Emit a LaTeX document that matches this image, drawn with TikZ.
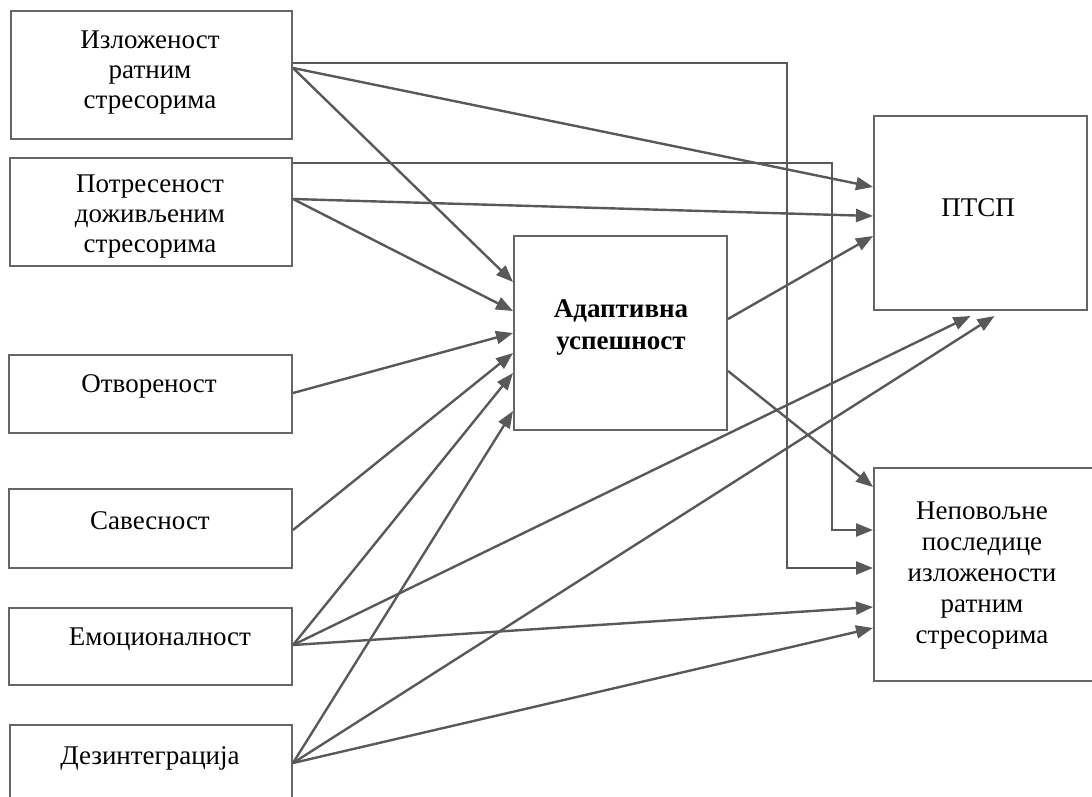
\documentclass[tikz,border=0pt]{standalone}
\usepackage{fontspec}
\setmainfont{Liberation Serif}
\usetikzlibrary{arrows.meta,calc}
\definecolor{lncol}{HTML}{595959}
\definecolor{bxcol}{HTML}{666666}
\begin{document}
\begin{tikzpicture}[x=1pt,y=-1pt,
  box/.style={draw=bxcol, line width=2pt, anchor=north west, inner sep=0pt},
  txt/.style={font=\fontsize{27}{30}\selectfont, align=center, inner sep=0pt, text=black},
  arr/.style={draw=lncol, line width=2.4pt, -{Triangle[length=17pt,width=13pt]}},
]
\useasboundingbox (0,0) rectangle (1092,796);
\clip (0,0) rectangle (1092,796);
% left boxes
\node[box, minimum width=281pt, minimum height=128pt] (b1) at (10,10) {};
\node[box, minimum width=282pt, minimum height=108pt] (b2) at (9,157) {};
\node[box, minimum width=283pt, minimum height=78pt] (b3) at (8,354) {};
\node[box, minimum width=283pt, minimum height=79pt] (b4) at (8,488) {};
\node[box, minimum width=283pt, minimum height=77pt] (b5) at (8,607) {};
\node[box, minimum width=282pt, minimum height=90pt] (b6) at (9,724) {};
% middle and right boxes
\node[box, minimum width=213pt, minimum height=194pt] (ad) at (513,235) {};
\node[box, minimum width=213pt, minimum height=194pt] (pt) at (873,115) {};
\node[box, minimum width=235pt, minimum height=213pt] (ng) at (873,467) {};
% texts
\node[txt] (t1) at (150,73) {Изложеност\\ратним\\стресорима};
\node[txt] (t2) at (150,217) {Потресеност\\доживљеним\\стресорима};
\node[txt] (t3) at (149,386) {Отвореност};
\node[txt] (t4) at (150,521) {Савесност};
\node[txt] (t5) at (160,639) {Емоционалност};
\node[txt] (t6) at (150,758) {Дезинтеграција};
\node[txt, font=\fontsize{27}{32}\selectfont\bfseries] (ta) at (621,327) {Адаптивна\\успешност};
\node[txt] (tp) at (978,208) {ПТСП};
\node[txt, font=\fontsize{27}{31}\selectfont] (tn) at (982,576) {Неповољне\\последице\\изложености\\ратним\\стресорима};
% connectors from b1
\draw[arr] (b1.east |- 0,63) -- ++(494,0) |- (ng.west |- 0,568);
\draw[arr] (b1.east |- 0,68) -- (pt.west |- 0,187);
\draw[arr] (b1.east |- 0,68) -- (ad.west |- 0,282);
% from b2
\draw[arr] (b2.east |- 0,163) -- ++(539,0) |- (ng.west |- 0,530);
\draw[arr] (b2.east |- 0,199) -- (pt.west |- 0,216);
\draw[arr] (b2.east |- 0,199) -- (ad.west |- 0,311);
% from b3, b4
\draw[arr] (b3.east |- 0,393) -- (ad.west |- 0,333);
\draw[arr] (b4.east |- 0,530) -- (ad.west |- 0,353);
% from b5
\draw[arr] (b5.east |- 0,645) -- (ad.west |- 0,373);
\draw[arr] (b5.east |- 0,645) -- ($(pt.south)+(-10,5)$);
\draw[arr] (b5.east |- 0,645) -- (ng.west |- 0,607);
% from b6
\draw[arr] (b6.east |- 0,763) -- (ad.west |- 0,411);
\draw[arr] (b6.east |- 0,763) -- ($(pt.south)+(14,5)$);
\draw[arr] (b6.east |- 0,763) -- (ng.west |- 0,628);
% from adaptive
\draw[arr] (ad.east |- 0,319) -- (pt.west |- 0,236);
\draw[arr] (ad.east |- 0,371) -- (ng.west |- 0,487);
\end{tikzpicture}
\end{document}
